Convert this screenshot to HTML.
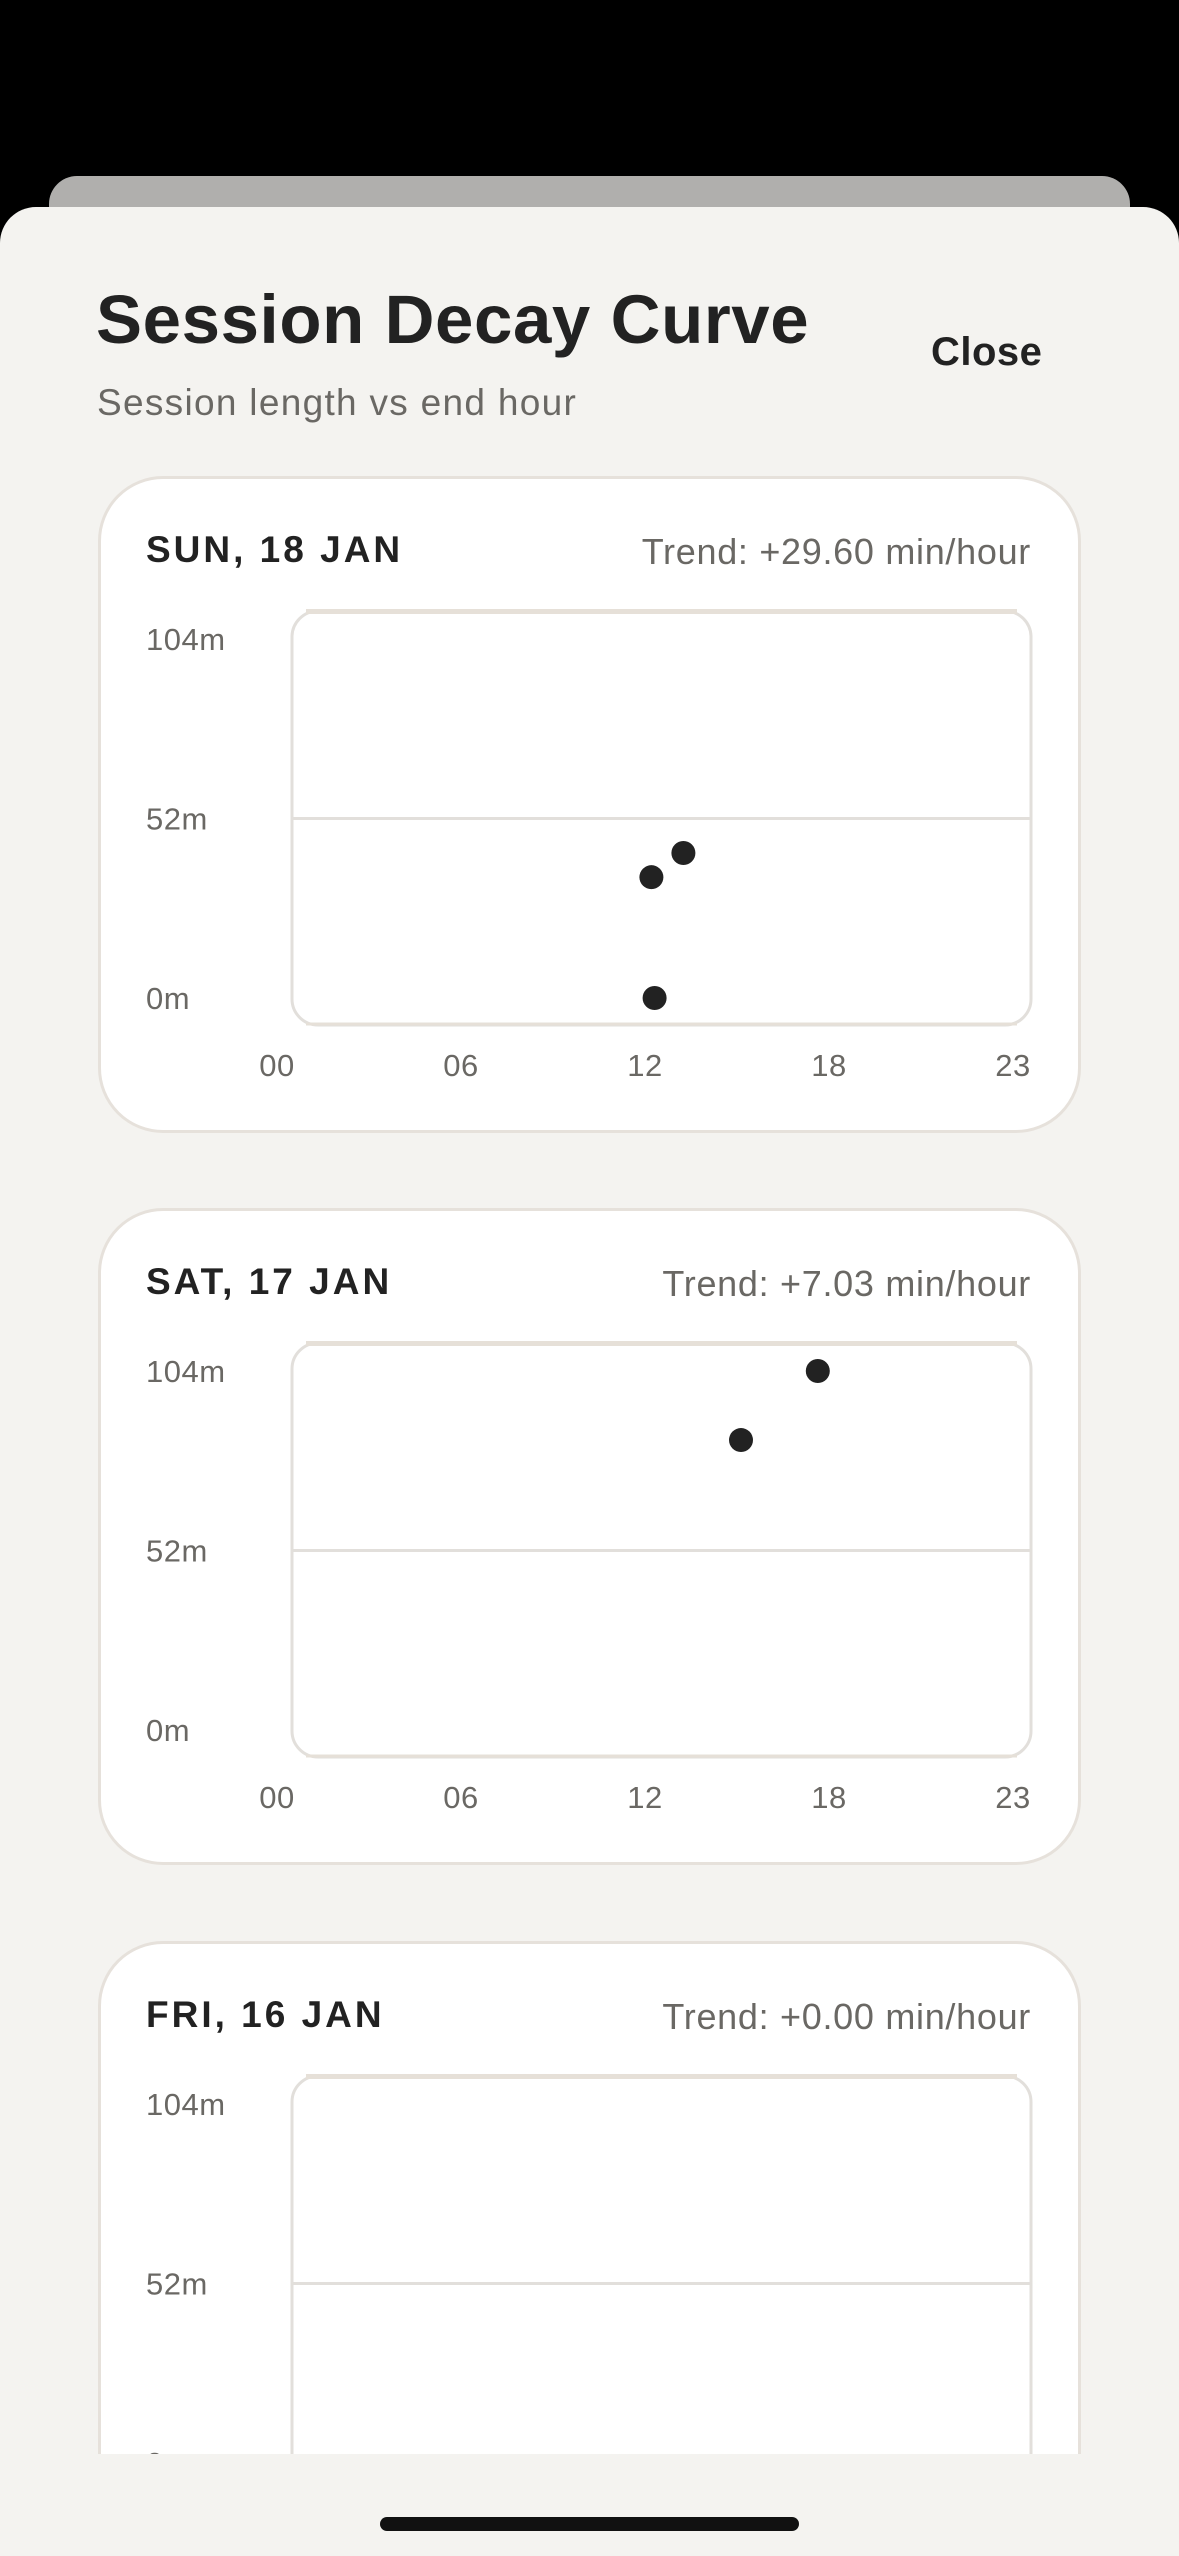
<!DOCTYPE html>
<html><head><meta charset="utf-8">
<style>
*{margin:0;padding:0;box-sizing:border-box}
body{width:1179px;height:2556px;background:#000;position:relative;overflow:hidden;font-family:"Liberation Sans",sans-serif;color:#222}
.tab{position:absolute;left:49px;top:176px;width:1081px;height:60px;background:#b0afad;border-radius:28px 28px 0 0}
.sheet{position:absolute;left:0;top:207px;width:1179px;height:2349px;background:#f4f3f0;border-radius:36px 36px 0 0}
.title{position:absolute;left:96px;top:280px;font-size:69px;font-weight:bold;letter-spacing:0.6px}
.close{position:absolute;left:931px;top:330px;font-size:40px;font-weight:bold;letter-spacing:0.5px}
.sub{position:absolute;left:97px;top:382px;font-size:37px;color:#6a6864;letter-spacing:1.3px}
.scroll{position:absolute;left:0;top:0;width:1179px;height:2454px;overflow:hidden}
.card{position:absolute;left:98px;width:983px;height:657px;background:#fff;border:3px solid #e6e1db;border-radius:65px}
.day{position:absolute;left:45px;top:50px;font-size:37px;font-weight:bold;letter-spacing:3px}
.trend{position:absolute;right:47px;top:52px;font-size:36px;color:#6a6864;letter-spacing:0.7px}
svg{position:absolute;left:-3px;top:-3px}
.home{position:absolute;left:380px;top:2517px;width:419px;height:14px;border-radius:7px;background:#111}
</style></head><body>
<div class="tab"></div>
<div class="sheet"></div>
<div class="scroll" id="scroll"></div>
<div class="title">Session Decay Curve</div>
<div class="close">Close</div>
<div class="sub">Session length vs end hour</div>
<div class="home"></div>
<script>
const days=["SUN, 18 JAN","SAT, 17 JAN","FRI, 16 JAN"];
const trends=["Trend: +29.60 min/hour","Trend: +7.03 min/hour","Trend: +0.00 min/hour"];
const hours=[[11.7,12.7,11.8],[16.9,14.5],[]];
const minutes=[[35,42,0],[104,84],[]];
const yTicks=[0,52,104];
const yTickLabels=["0m","52m","104m"];
const xTickLabels=["00","06","12","18","23"];
const tops=[476,1208,1941];
const NS="http://www.w3.org/2000/svg";
const sc=document.getElementById('scroll');
const xs=h=>179+h*(915-179)/23;
const xl=j=>179+j*(915-179)/(xTickLabels.length-1);
const ys=m=>522-m*(522-163)/104;
function mk(tag,attrs,parent){const e=document.createElementNS(NS,tag);for(const k in attrs)e.setAttribute(k,attrs[k]);parent.appendChild(e);return e;}
days.forEach((d,i)=>{
 const c=document.createElement('div');c.className='card';c.style.top=tops[i]+'px';
 
 
 c.innerHTML='<div class="day">'+d+'</div><div class="trend">'+trends[i]+'</div>';
 const s=mk('svg',{width:983,height:657},c);
 
 
 const box=mk('rect',{x:194,y:135,width:739,height:414,rx:26,fill:'#fff',stroke:'#e2dfdb','stroke-width':3},s);
 
 
 mk('path',{d:'M208 135.5 H919',stroke:'#e6e0d8','stroke-width':5,fill:'none'},s);
 mk('path',{d:'M208 548 H919',stroke:'#e6e0d8','stroke-width':3,fill:'none'},s);
 const g=mk('line',{x1:194,x2:933,y1:ys(52),y2:ys(52),stroke:'#e2dfdb','stroke-width':3},s);
 
 
 yTicks.forEach((v,j)=>{const t=mk('text',{x:48,y:ys(v)+11,'font-size':31,fill:'#6a6864','letter-spacing':0.5},s);t.textContent=yTickLabels[j];
  
  });
 xTickLabels.forEach((v,j)=>{const t=mk('text',{x:xl(j),y:600,'font-size':31,fill:'#6a6864','text-anchor':'middle','letter-spacing':0.5},s);t.textContent=v;
  
  });
 hours[i].forEach((h,j)=>{const p=mk('circle',{cx:xs(h),cy:ys(minutes[i][j]),r:12,fill:'#222'},s);
  
  });
 sc.appendChild(c);
});
</script>
</body></html>
